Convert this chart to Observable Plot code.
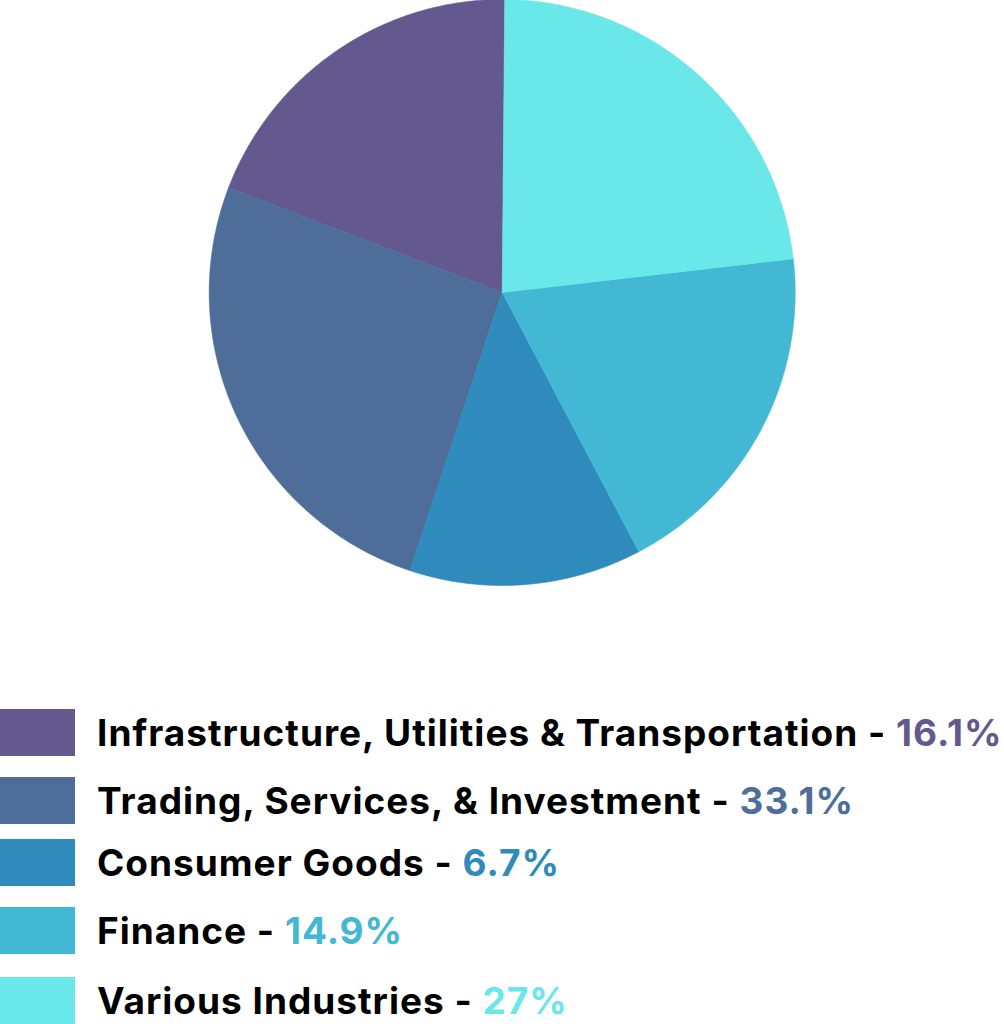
<!DOCTYPE html>
<html>
<head>
<meta charset="utf-8">
<script src="https://cdn.jsdelivr.net/npm/d3@7"></script>
<script src="https://cdn.jsdelivr.net/npm/@observablehq/plot@0.6"></script>
<style>
  html, body { margin: 0; padding: 0; background: #fff; }
  #chart svg { display: block; }
  .legend { font-family: Inter, "Noto Sans", sans-serif; font-weight: 700; }
  .row { display: flex; align-items: center; height: 46.5px; }
  .sw { width: 75px; height: 46.5px; flex: none; }
  .lbl { margin-left: 22px; font-size: 37px; color: #000; white-space: nowrap; letter-spacing: 1px; }
</style>
</head>
<body>
<div id="chart"></div>
<div class="legend" id="legend"></div>
<script>
// Categories in legend order
const categories = [
  "Infrastructure, Utilities & Transportation",
  "Trading, Services, & Investment",
  "Consumer Goods",
  "Finance",
  "Various Industries"
];
// Legend percentage labels (as printed)
const percentLabels = ["16.1%", "33.1%", "6.7%", "14.9%", "27%"];
// Slice shares as drawn in the picture (percent of the circle)
const sliceValues = [19.3, 25.7, 12.8, 19.1, 23.0];
const colors = ["#64598f", "#4e6e99", "#2f8bbc", "#42b8d5", "#6ae7e9"];

// Pie layout: starts just right of 12 o'clock, runs counter-clockwise in legend order
const startDeg = 0.5;
const pie = d3.pie().sort(null).value(d => d.value)
  .startAngle(startDeg * Math.PI / 180)
  .endAngle(startDeg * Math.PI / 180 - 2 * Math.PI);
const arcs = pie(categories.map((c, i) => ({category: c, value: sliceValues[i]})));

// Turn each arc into a polygon on a unit circle (y up)
const pts = [];
for (const a of arcs) {
  const c = a.data.category;
  pts.push({category: c, x: 0, y: 0});
  const n = Math.max(2, Math.ceil(Math.abs(a.endAngle - a.startAngle) / (Math.PI / 720)));
  for (let k = 0; k <= n; k++) {
    const t = a.startAngle + (a.endAngle - a.startAngle) * k / n;
    pts.push({category: c, x: Math.sin(t), y: Math.cos(t)});
  }
  pts.push({category: c, x: 0, y: 0});
}

const W = 1004, H = 709, cx = 501.7, cy = 292, R = 293;
const chart = Plot.plot({
  width: W, height: H,
  margin: 0,
  x: {domain: [-cx / R, (W - cx) / R], range: [0, W], axis: null},
  y: {domain: [-(H - cy) / R, cy / R], range: [H, 0], axis: null},
  color: {domain: categories, range: colors},
  marks: [
    Plot.line(pts, {x: "x", y: "y", z: "category", fill: "category", stroke: "category", strokeWidth: 0.6, curve: "linear"})
  ]
});
document.getElementById("chart").appendChild(chart);

// gaps below each legend row (layout)
const rowGaps = [21.5, 15.5, 21.5, 23.5, 0];
const legend = document.getElementById("legend");
categories.forEach((c, i) => {
  const row = document.createElement("div");
  row.className = "row";
  row.style.marginBottom = rowGaps[i] + "px";
  const sw = document.createElement("div");
  sw.className = "sw";
  sw.style.background = colors[i];
  const lbl = document.createElement("div");
  lbl.className = "lbl";
  lbl.append(c + " - ");
  const p = document.createElement("span");
  p.style.color = colors[i];
  p.textContent = percentLabels[i];
  lbl.append(p);
  row.append(sw, lbl);
  legend.append(row);
});
</script>
</body>
</html>
